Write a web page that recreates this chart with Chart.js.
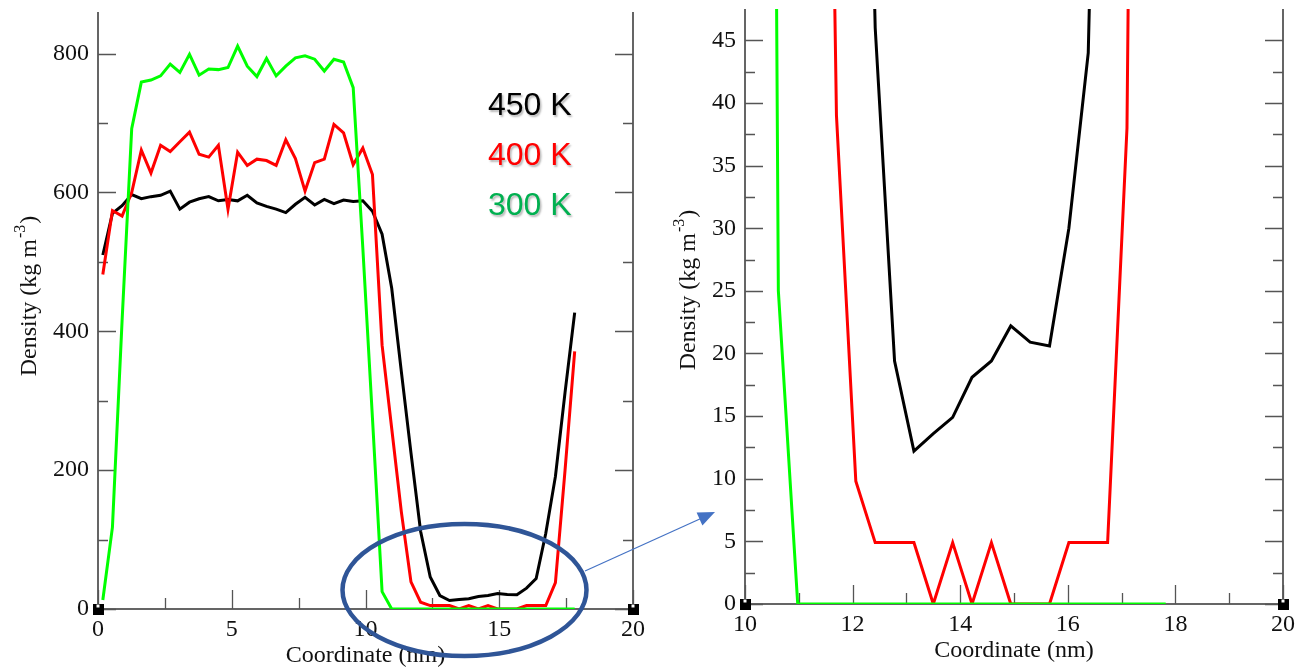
<!DOCTYPE html>
<html>
<head>
<meta charset="utf-8">
<script src="https://cdn.jsdelivr.net/npm/chart.js@4.4.0/dist/chart.umd.min.js"></script>
<style>
  body { margin: 0; background: #fff; width: 1307px; height: 668px; position: relative; overflow: hidden; }
  canvas { position: absolute; top: 0; }
  #densityFull { left: 0; }
  #densityZoom { left: 655px; }
  svg { position: absolute; left: 0; top: 0; pointer-events: none; }
</style>
</head>
<body>
<canvas id="densityFull" width="655" height="668"></canvas>
<canvas id="densityZoom" width="652" height="668"></canvas>
<svg width="1307" height="668">
  <ellipse cx="464.5" cy="590" rx="122" ry="66" fill="none" stroke="#2F5597" stroke-width="4.5"/>
  <line x1="585" y1="571" x2="702" y2="518" stroke="#4472C4" stroke-width="1.2"/>
  <polygon points="715,512 696.6,512.6 702.4,525.4" fill="#4472C4"/>
</svg>
<script>
// bin centres along the box (nm)
const coordinate = [
  0.18, 0.54, 0.90, 1.26, 1.62, 1.98, 2.34, 2.70, 3.06, 3.42,
  3.78, 4.14, 4.50, 4.86, 5.22, 5.58, 5.94, 6.30, 6.66, 7.02,
  7.38, 7.74, 8.10, 8.46, 8.82, 9.18, 9.54, 9.90, 10.26, 10.62,
  10.98, 11.34, 11.70, 12.06, 12.42, 12.78, 13.14, 13.50, 13.86, 14.22,
  14.58, 14.94, 15.30, 15.66, 16.02, 16.38, 16.74, 17.10, 17.46, 17.82
];

// density profiles (kg m^-3)
const density450 = [
  510, 570, 581, 597, 591, 594, 596, 602, 576, 586,
  591, 594, 588, 590, 588, 596, 585, 580, 576, 571,
  583, 593, 582, 590, 584, 589, 587, 588, 573, 540,
  462, 342, 225, 112, 46, 19.4, 12.2, 13.6, 14.9, 18.1,
  19.4, 22.2, 20.9, 20.6, 30, 44, 109, 191, 312, 427
];
const density400 = [
  482, 574, 566, 600, 661, 628, 668, 659, 673, 687,
  655, 651, 668, 576, 658, 639, 648, 646, 639, 676,
  649, 602, 643, 648, 698, 686, 640, 664, 626, 380,
  260, 140, 39, 9.8, 4.9, 4.9, 4.9, 0, 4.9, 0,
  4.9, 0, 0, 0, 4.9, 4.9, 4.9, 38, 200, 371
];
const density300 = [
  13, 118, 415, 692, 759, 762, 768, 785, 773, 799,
  769, 778, 777, 780, 811, 782, 767, 793, 768, 782,
  794, 797, 792, 775, 792, 788, 751, 520, 275, 25,
  0, 0, 0, 0, 0, 0, 0, 0, 0, 0,
  0, 0, 0, 0, 0, 0, 0, 0, 0, 0
];

const seriesLabels = ['450 K', '400 K', '300 K'];

// axis ticks
const fullXTicks = [0, 5, 10, 15, 20];
const fullXMinor = [2.5, 7.5, 12.5, 17.5];
const fullYTicks = [0, 200, 400, 600, 800];
const fullYMinor = [100, 300, 500, 700];
const zoomXTicks = [10, 12, 14, 16, 18, 20];
const zoomXMinor = [11, 13, 15, 17, 19];
const zoomYTicks = [0, 5, 10, 15, 20, 25, 30, 35, 40, 45];
const zoomYMinor = [2.5, 7.5, 12.5, 17.5, 22.5, 27.5, 32.5, 37.5, 42.5];

const SERIF = '"Liberation Serif", "Times New Roman", serif';

// small black corner marker
const cornerMark = (() => {
  const c = document.createElement('canvas');
  c.width = 11; c.height = 11;
  const g = c.getContext('2d');
  g.fillStyle = '#000';
  g.fillRect(0, 0, 11, 11);
  g.fillStyle = '#fff';
  g.fillRect(4, 1, 3, 3);
  return c;
})();

function toPoints(values) {
  return coordinate.map((c, i) => ({ x: c, y: values[i] }));
}

// frame + inward ticks like the old xmgrace look
const frameTicks = {
  id: 'frameTicks',
  beforeDatasetsDraw(chart, args, opts) {
    const { ctx, chartArea: a, scales: { x, y } } = chart;
    ctx.save();
    ctx.strokeStyle = '#333';
    ctx.lineWidth = 1.5;
    ctx.beginPath();
    ctx.moveTo(a.left, a.top);
    ctx.lineTo(a.left, a.bottom);
    ctx.lineTo(a.right, a.bottom);
    ctx.lineTo(a.right, a.top);
    ctx.stroke();

    ctx.strokeStyle = '#555';
    ctx.lineWidth = 1.3;
    ctx.beginPath();
    const yMark = (list, len) => list.forEach(v => {
      const py = Math.round(y.getPixelForValue(v)) + 0.5;
      ctx.moveTo(a.left, py); ctx.lineTo(a.left + len, py);
      ctx.moveTo(a.right, py); ctx.lineTo(a.right - len, py);
    });
    const xMark = (list, len) => list.forEach(v => {
      const px = Math.round(x.getPixelForValue(v)) + 0.5;
      ctx.moveTo(px, a.bottom); ctx.lineTo(px, a.bottom - len);
    });
    yMark(opts.yMajor, 18); yMark(opts.yMinor, 10);
    xMark(opts.xMajor, 19); xMark(opts.xMinor, 11);
    ctx.stroke();
    ctx.restore();
  },
  afterDraw(chart, args, opts) {
    const { ctx, chartArea: a } = chart;
    ctx.save();
    ctx.fillStyle = '#111';
    // x title
    ctx.font = '24px ' + SERIF;
    ctx.textAlign = 'center';
    ctx.textBaseline = 'alphabetic';
    ctx.fillText('Coordinate (nm)', (a.left + a.right) / 2, a.bottom + 53);

    // y title with superscript
    const main = 'Density (kg m';
    const sup = '-3';
    const close = ')';
    ctx.font = '24px ' + SERIF;
    const wMain = ctx.measureText(main).width;
    const wClose = ctx.measureText(close).width;
    ctx.font = '16px ' + SERIF;
    const wSup = ctx.measureText(sup).width;
    const total = wMain + wSup + wClose + 2;
    ctx.translate(opts.titleX, opts.titleY);
    ctx.rotate(-Math.PI / 2);
    ctx.textAlign = 'left';
    let u = -total / 2;
    ctx.font = '24px ' + SERIF;
    ctx.fillText(main, u, 0);
    u += wMain + 1;
    ctx.font = '16px ' + SERIF;
    ctx.fillText(sup, u, -11);
    u += wSup + 1;
    ctx.font = '24px ' + SERIF;
    ctx.fillText(close, u, 0);
    ctx.restore();

    if (opts.legend) {
      ctx.save();
      ctx.font = '32px "Liberation Sans", Arial, sans-serif';
      ctx.textAlign = 'left';
      ctx.textBaseline = 'alphabetic';
      ctx.shadowColor = 'rgba(0,0,0,0.28)';
      ctx.shadowOffsetX = 1.5;
      ctx.shadowOffsetY = 1.5;
      ctx.shadowBlur = 2;
      const colors = ['#000000', '#ff0000', '#00b050'];
      seriesLabels.forEach((t, i) => {
        ctx.fillStyle = colors[i];
        ctx.fillText(t, 488, 115 + i * 50);
      });
      ctx.restore();
    }
  }
};

function buildChart(canvasId, cfg) {
  const ctx = document.getElementById(canvasId).getContext('2d');
  const line = (values, color, order) => ({
    data: toPoints(values),
    borderColor: color,
    borderWidth: 3,
    pointRadius: 0,
    tension: 0,
    order: order
  });

  return new Chart(ctx, {
    type: 'line',
    data: {
      datasets: [
        line(density450, '#000000', 3),
        line(density400, '#ff0000', 2),
        line(density300, '#00ff00', 1),
        {
          data: cfg.corners.map(v => ({ x: v, y: 0 })),
          showLine: false,
          pointStyle: cornerMark,
          pointRadius: 6,
          clip: false,
          order: 0
        }
      ]
    },
    options: {
      responsive: false,
      animation: false,
      devicePixelRatio: 1,
      layout: { padding: { top: cfg.padTop, right: cfg.padRight, left: 0, bottom: 0 } },
      plugins: {
        legend: { display: false },
        tooltip: { enabled: false },
        frameTicks: {
          xMajor: cfg.xTicks, xMinor: cfg.xMinor,
          yMajor: cfg.yTicks, yMinor: cfg.yMinor,
          titleX: cfg.titleX, titleY: cfg.titleY,
          legend: cfg.legend
        }
      },
      scales: {
        x: {
          type: 'linear',
          min: cfg.xMin, max: cfg.xMax,
          grid: { display: false, drawTicks: false },
          border: { display: false },
          afterBuildTicks: s => { s.ticks = cfg.xTicks.map(v => ({ value: v })); },
          afterFit: s => {
            s.height = cfg.xHeight;
            s.paddingLeft = 0;
            s.paddingRight = 0;
          },
          ticks: {
            autoSkip: false, maxRotation: 0, padding: 6,
            color: '#111',
            font: { family: SERIF, size: 24 },
            callback: v => String(v)
          }
        },
        y: {
          min: 0, max: cfg.yMax,
          grid: { display: false, drawTicks: false },
          border: { display: false },
          afterBuildTicks: s => { s.ticks = cfg.yTicks.map(v => ({ value: v })); },
          afterFit: s => {
            s.width = cfg.yWidth;
            s.paddingTop = 0;
            s.paddingBottom = 0;
          },
          ticks: {
            padding: 9,
            color: '#111',
            font: { family: SERIF, size: 24 },
            callback: v => String(v)
          }
        }
      }
    },
    plugins: [frameTicks]
  });
}

buildChart('densityFull', {
  xMin: 0, xMax: 20, yMax: 860,
  xTicks: fullXTicks, xMinor: fullXMinor,
  yTicks: fullYTicks, yMinor: fullYMinor,
  corners: [0, 20],
  padTop: 12, padRight: 22, yWidth: 98, xHeight: 59,
  titleX: 36, titleY: 296,
  legend: true
});

buildChart('densityZoom', {
  xMin: 10, xMax: 20, yMax: 47.5,
  xTicks: zoomXTicks, xMinor: zoomXMinor,
  yTicks: zoomYTicks, yMinor: zoomYMinor,
  corners: [10, 20],
  padTop: 9, padRight: 24, yWidth: 90, xHeight: 64,
  titleX: 40, titleY: 290,
  legend: false
});
</script>
</body>
</html>
